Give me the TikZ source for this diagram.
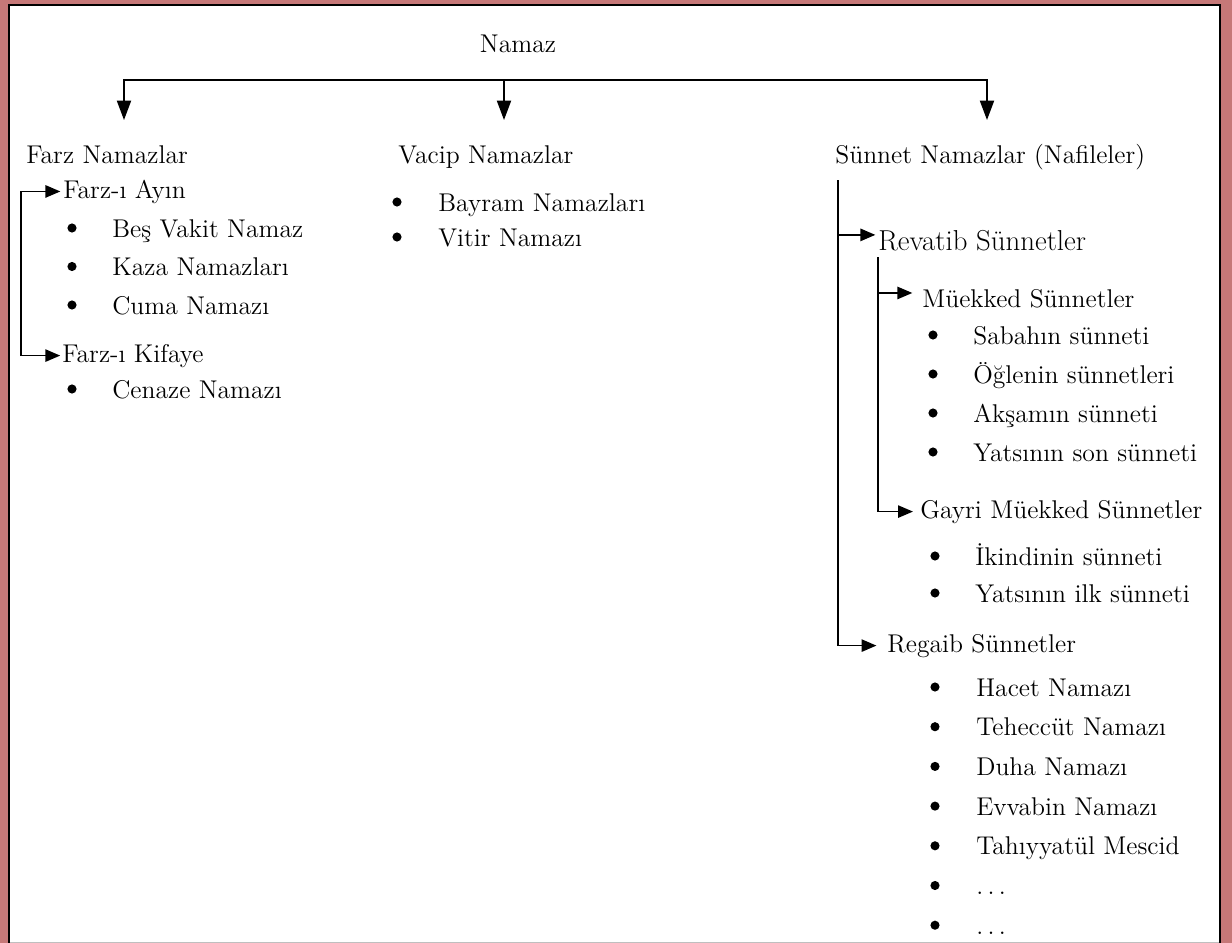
\documentclass[tikz,border=0pt]{standalone}
\usepackage{tikz}
\usetikzlibrary{arrows.meta}

\definecolor{framered}{RGB}{198,120,120}

\begin{document}
\begin{tikzpicture}[x=0.02cm,y=-0.02cm,
    font=\fontsize{14.6}{17}\selectfont,
    txt/.style={anchor=base west,inner sep=0pt},
    bul/.style={circle,fill=black,inner sep=0pt,minimum size=5.2pt},
    arr/.style={line width=1pt,-{Triangle[length=8.5pt,width=7pt]}},
    toparr/.style={line width=1pt,-{Triangle[length=11pt,width=8pt]}}]
    \useasboundingbox (0,0) rectangle (1232,943);
    % frame
    \fill [framered] (0,0) rectangle (1232,943);
    \fill [white] (9,5) rectangle (1220,943);
    \draw [black!25] (9,942) -- (1220,942);
    \draw [line width=1.2pt] (9,943) -- (9,5) -- (1220,5) -- (1220,943);

    % top level
    \node [anchor=base,inner sep=0pt] (namaz) at (518,52) {Namaz};
    \node [txt] (farz)   at (26,163)  {Farz Namazlar};
    \node [txt] (vacip)  at (398,163) {Vacip Namazlar};
    \node [txt] (sunnet) at (835,163) {Sünnet Namazlar (Nafileler)};
    \coordinate (top) at (504,80);
    \coordinate (farz-in)   at (124,120);
    \coordinate (vacip-in)  at (504,120);
    \coordinate (sunnet-in) at (987,120);
    \draw [toparr] (top) -| (farz-in);
    \draw [toparr] (top) -| (sunnet-in);
    \draw [toparr] (top) -- (vacip-in);

    % farz
    \node [txt] (ayin)   at (63,198) {Farz-ı Ayın};
    \node [txt] (kifaye) at (62,362) {Farz-ı Kifaye};
    \coordinate (farz-l) at (21,190);
    \draw [arr,shorten >=1.5pt] (ayin.west -| farz-l) -- (ayin.west);
    \draw [arr,shorten >=1pt] (ayin.west -| farz-l) |- (kifaye.west);
    \foreach \t [count=\i] in {Beş Vakit Namaz, Kaza Namazları, Cuma Namazı} {
        \node [bul] (ayin-b\i) at (72,{228+38.5*(\i-1)}) {};
        \node [txt] (ayin-\i)  at (112,{237+38.5*(\i-1)}) {\t};
    }
    \node [bul] (kifaye-b1) at (72,389) {};
    \node [txt] (kifaye-1)  at (112,398) {Cenaze Namazı};

    % vacip
    \foreach \t [count=\i] in {Bayram Namazları, Vitir Namazı} {
        \node [bul] (vacip-b\i) at (397,{202+35*(\i-1)}) {};
        \node [txt] (vacip-\i)  at (438,{211+35*(\i-1)}) {\t};
    }

    % sunnet
    \node [txt,font=\fontsize{16.4}{19}\selectfont] (revatib) at (878,250) {Revatib Sünnetler};
    \node [txt] (muekked) at (922,307) {Müekked Sünnetler};
    \node [txt] (gayri)   at (920,518) {Gayri Müekked Sünnetler};
    \node [txt] (regaib)  at (887,652) {Regaib Sünnetler};
    \coordinate (sv) at (838,180);
    \coordinate (rv) at (878,257);
    \coordinate (revatib-in) at ([yshift=3pt]revatib.west);
    \coordinate (muekked-in) at ([yshift=3pt]muekked.west);
    \draw [arr,shorten >=1.5pt] (sv |- revatib-in) -- (revatib-in);
    \draw [arr,shorten >=6pt] (sv) |- (regaib.west);
    \draw [arr,shorten >=5.5pt] (rv |- muekked-in) -- (muekked-in);
    \draw [arr,shorten >=4pt] (rv) |- (gayri.west);
    \foreach \t [count=\i] in {Sabahın sünneti, Öğlenin sünnetleri, Akşamın sünneti, Yatsının son sünneti} {
        \node [bul] (muekked-b\i) at (933,{335+39*(\i-1)}) {};
        \node [txt] (muekked-\i)  at (973,{344+39*(\i-1)}) {\t};
    }
    \foreach \t [count=\i] in {İkindinin sünneti, Yatsının ilk sünneti} {
        \node [bul] (gayri-b\i) at (935,{556+37*(\i-1)}) {};
        \node [txt] (gayri-\i)  at (975,{565+37*(\i-1)}) {\t};
    }
    \foreach \t [count=\i] in {Hacet Namazı, Teheccüt Namazı, Duha Namazı, Evvabin Namazı, Tahıyyatül Mescid, {.\,.\,.}, {.\,.\,.}} {
        \node [bul] (regaib-b\i) at (935,{687+39.7*(\i-1)}) {};
        \node [txt] (regaib-\i)  at (976,{696+39.7*(\i-1)}) {\t};
    }
\end{tikzpicture}
\end{document}
